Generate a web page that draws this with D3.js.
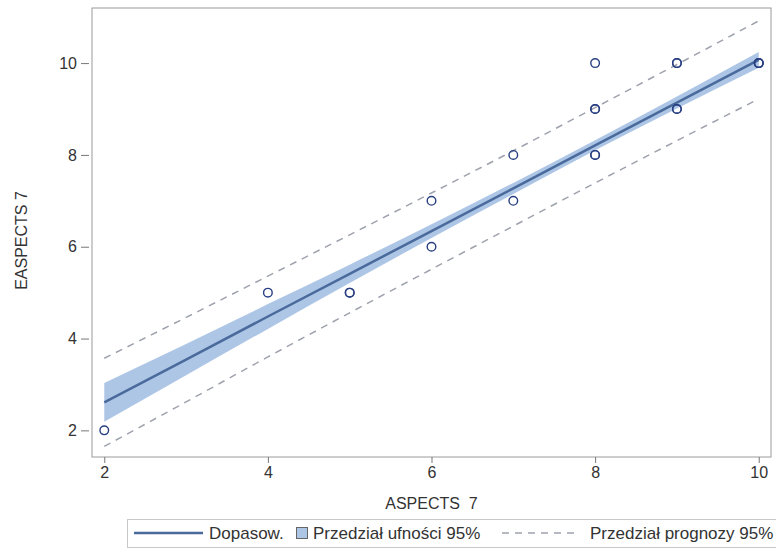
<!DOCTYPE html>
<html>
<head>
<meta charset="utf-8">
<script src="https://cdn.jsdelivr.net/npm/d3@7"></script>
<style>
  body { margin: 0; background: #fff; }
  text { font-family: "Liberation Sans", Arial, sans-serif; fill: #333; }
</style>
</head>
<body>
<div id="chart"></div>
<script>
// observed points (ASPECTS 7, EASPECTS 7) - duplicates overlap
var aspects  = [2, 4, 5, 5, 6, 6, 7, 7, 8, 8, 8, 8, 8, 9, 9, 9, 9, 10, 10, 10];
var easpects = [2, 5, 5, 5, 7, 6, 8, 7, 10, 9, 9, 8, 8, 10, 10, 9, 9, 10, 10, 10];

// fitted line and bands
var bandX  = [2, 3, 4, 5, 6, 7, 8, 9, 10];
var fit    = [2.61, 3.54, 4.48, 5.41, 6.34, 7.27, 8.21, 9.14, 10.07];
var ciLow  = [2.19, 3.20, 4.21, 5.21, 6.19, 7.15, 8.10, 9.01, 9.90];
var ciHigh = [3.03, 3.88, 4.75, 5.61, 6.49, 7.39, 8.32, 9.27, 10.24];
var piLow  = [1.65, 2.62, 3.60, 4.56, 5.51, 6.45, 7.39, 8.31, 9.22];
var piHigh = [3.57, 4.46, 5.36, 6.26, 7.17, 8.09, 9.03, 9.97, 10.92];

var xTicks = [2, 4, 6, 8, 10];
var yTicks = [2, 4, 6, 8, 10];

var w = 776, h = 552;
var margin = {top: 8, right: 5, bottom: 95, left: 92};
var width = w - margin.left - margin.right,
    height = h - margin.top - margin.bottom;

var svg = d3.select("#chart").append("svg")
    .attr("width", w)
    .attr("height", h);

var x = d3.scaleLinear().domain([1.85, 10.15]).range([0, width]);
var y = d3.scaleLinear().domain([1.42, 11.2]).range([height, 0]);

var main = svg.append("g")
    .attr("transform", "translate(" + margin.left + "," + margin.top + ")");

var band = bandX.map(function(d, i) {
    return {x: d, fit: fit[i], cl: ciLow[i], ch: ciHigh[i], pl: piLow[i], ph: piHigh[i]};
});

// confidence band
main.append("path")
    .datum(band)
    .attr("d", d3.area()
        .curve(d3.curveMonotoneX)
        .x(function(d) { return x(d.x); })
        .y0(function(d) { return y(d.cl); })
        .y1(function(d) { return y(d.ch); }))
    .style("fill", "#adc6e6");

// prediction limits
["pl", "ph"].forEach(function(k) {
    main.append("path")
        .datum(band)
        .attr("d", d3.line()
            .curve(d3.curveMonotoneX)
            .x(function(d) { return x(d.x); })
            .y(function(d) { return y(d[k]); }))
        .style("fill", "none")
        .style("stroke", "#9ea2ad")
        .style("stroke-width", 1.5)
        .style("stroke-dasharray", "7,6");
});

// fit line
main.append("path")
    .datum(band)
    .attr("d", d3.line()
        .x(function(d) { return x(d.x); })
        .y(function(d) { return y(d.fit); }))
    .style("fill", "none")
    .style("stroke", "#4a6a9c")
    .style("stroke-width", 2.5);

// points
main.selectAll("circle.pt")
    .data(aspects)
    .enter().append("circle")
    .attr("class", "pt")
    .attr("cx", function(d) { return x(d); })
    .attr("cy", function(d, i) { return y(easpects[i]); })
    .attr("r", 4.3)
    .style("fill", "none")
    .style("stroke", "#283f82")
    .style("stroke-width", 1.4);

// frame
main.append("rect")
    .attr("width", width)
    .attr("height", height)
    .style("fill", "none")
    .style("stroke", "#9a9a9a")
    .style("stroke-width", 1);

var xAxis = d3.axisBottom(x).tickValues(xTicks).tickSize(6).tickPadding(4);
var yAxis = d3.axisLeft(y).tickValues(yTicks).tickSize(8).tickPadding(4);

var gx = main.append("g")
    .attr("transform", "translate(0," + height + ")")
    .call(xAxis);
var gy = main.append("g")
    .attr("transform", "translate(-3,0)")
    .call(yAxis);

[gx, gy].forEach(function(g) {
    g.select(".domain").remove();
    g.selectAll("line").style("stroke", "#777");
    g.selectAll("text")
        .style("font-size", "16px")
        .style("font-family", "Liberation Sans, Arial, sans-serif")
        .attr("fill", "#333");
});

//axis titles
svg.append("text")
    .attr("x", margin.left + width / 2)
    .attr("y", 509)
    .style("text-anchor", "middle")
    .style("font-size", "16px")
    .style("white-space", "pre")
    .text("ASPECTS  7");

svg.append("text")
    .attr("transform", "translate(27," + (margin.top + height / 2 + 8) + ") rotate(-90)")
    .style("text-anchor", "middle")
    .style("font-size", "16px")
    .text("EASPECTS 7");

// legend
var lg = svg.append("g");
lg.append("rect")
    .attr("x", 127.5).attr("y", 519.5)
    .attr("width", 660).attr("height", 28)
    .style("fill", "#fff")
    .style("stroke", "#c8c8c8");

lg.append("line")
    .attr("x1", 134).attr("x2", 203).attr("y1", 533).attr("y2", 533)
    .style("stroke", "#4a6a9c").style("stroke-width", 2.5);
lg.append("text").attr("x", 209).attr("y", 539).style("font-size", "17px").text("Dopasow.");

lg.append("rect")
    .attr("x", 296.5).attr("y", 527.5).attr("width", 11).attr("height", 11)
    .style("fill", "#adc6e6").style("stroke", "#666");
lg.append("text").attr("x", 313).attr("y", 539).style("font-size", "17px").text("Przedział ufności 95%");

lg.append("line")
    .attr("x1", 502).attr("x2", 576).attr("y1", 533).attr("y2", 533)
    .style("stroke", "#9ea2ad").style("stroke-width", 1.5)
    .style("stroke-dasharray", "7,6");
lg.append("text").attr("x", 590).attr("y", 539).style("font-size", "17px").text("Przedział prognozy 95%");
</script>
</body>
</html>
